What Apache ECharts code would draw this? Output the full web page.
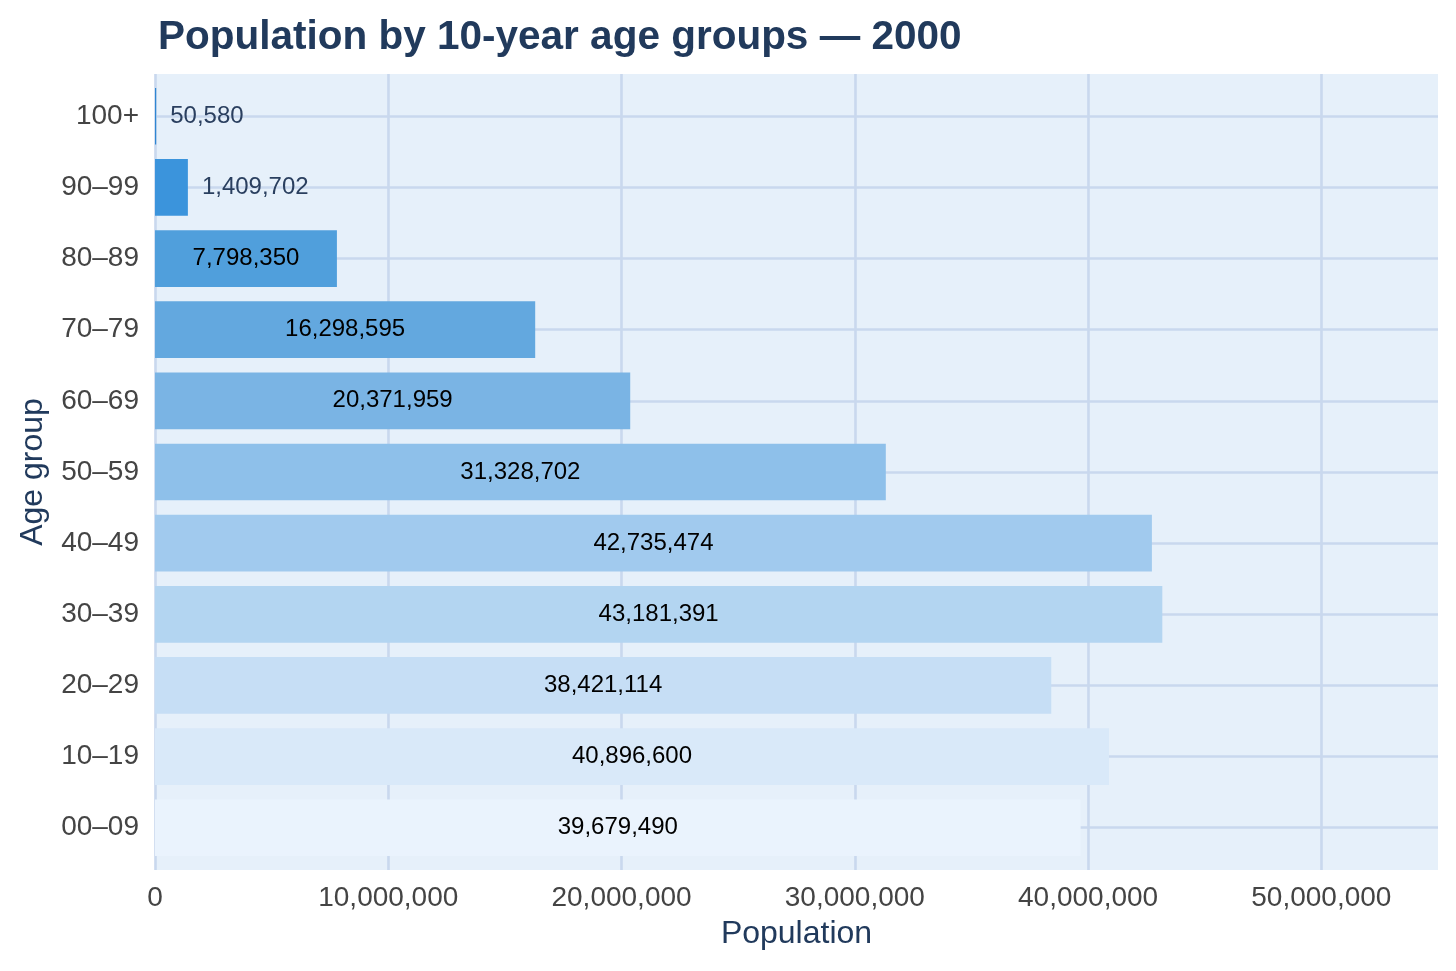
<!DOCTYPE html>
<html>
<head>
<meta charset="utf-8">
<script src="https://cdn.jsdelivr.net/npm/echarts@6/dist/echarts.min.js"></script>
<style>
html,body{margin:0;padding:0;background:#fff;}
#chart{width:1456px;height:971px;}
</style>
</head>
<body>
<div id="chart"></div>
<script>
const titleText = 'Population by 10-year age groups — 2000';
const categories = ['00–09','10–19','20–29','30–39','40–49','50–59','60–69','70–79','80–89','90–99','100+'];
const populations = [39679490, 40896600, 38421114, 43181391, 42735474, 31328702, 20371959, 16298595, 7798350, 1409702, 50580];
const barColors = ['#eaf3fd','#d9e9f9','#c6def5','#b3d5f1','#a1caee','#8ec0ea','#7ab4e4','#63a8df','#509fdc','#3b94dc','#2f86d2'];
const outsideLabelGroups = ['90–99','100+'];
const xTickStep = 10000000;
const xMax = 55000000;

function fmt(v){ return String(Math.round(v)).replace(/\B(?=(\d{3})+(?!\d))/g, ','); }

const FONT = "'Liberation Sans', Arial, sans-serif";
const gridColor = '#c9d8ee';

const barData = populations.map((v, i) => {
  const outside = outsideLabelGroups.indexOf(categories[i]) >= 0;
  return {
    value: v,
    itemStyle: { color: barColors[i] },
    label: outside
      ? { show: true, position: 'right', distance: 14, color: '#2a3f5f', fontSize: 24, fontFamily: FONT, formatter: p => fmt(p.value) }
      : { show: true, position: 'inside', color: '#000', fontSize: 24, fontFamily: FONT, formatter: p => fmt(p.value) }
  };
});

const chart = echarts.init(document.getElementById('chart'), null, { renderer: 'canvas' });
chart.setOption({
  animation: false,
  backgroundColor: '#ffffff',
  title: {
    text: titleText,
    left: 153, top: 12,
    textStyle: { fontFamily: FONT, fontWeight: 'bold', fontSize: 40.5, color: '#213a5c' }
  },
  grid: [
    { left: 155, right: 18, top: 74, bottom: 101, show: true, backgroundColor: '#e6f0fa', borderWidth: 0 },
    { left: 155, right: 18, top: 80.7, bottom: 107.7, show: false }
  ],
  xAxis: [
    {
      gridIndex: 0, type: 'value', min: 0, max: xMax, interval: xTickStep,
      axisLine: { show: false }, axisTick: { show: false },
      splitLine: { show: true, showMaxLine: false, lineStyle: { color: gridColor, width: 2.6 } },
      axisLabel: { color: '#444', fontSize: 28, fontFamily: FONT, margin: 14, formatter: v => fmt(v), showMaxLabel: false },
      name: 'Population', nameLocation: 'middle', nameGap: 48,
      nameTextStyle: { color: '#213a5c', fontSize: 32, fontFamily: FONT }
    },
    {
      gridIndex: 1, type: 'value', min: 0, max: xMax, interval: xTickStep,
      show: false, splitLine: { show: false }
    }
  ],
  yAxis: [
    { gridIndex: 0, type: 'value', min: 0, max: 1, show: false, splitLine: { show: false } },
    {
      gridIndex: 1, type: 'category', data: categories,
      axisLine: { show: false }, axisTick: { show: false }, splitLine: { show: false },
      axisLabel: { color: '#444', fontSize: 28, fontFamily: FONT, margin: 16 },
      name: 'Age group', nameLocation: 'middle', nameGap: 106,
      nameTextStyle: { color: '#213a5c', fontSize: 32, fontFamily: FONT }
    }
  ],
  series: [{
    type: 'bar',
    xAxisIndex: 1, yAxisIndex: 1,
    data: barData,
    barCategoryGap: '20.3%',
    z: 3,
    silent: true,
    markLine: {
      z: 1,
      silent: true,
      symbol: ['none','none'],
      label: { show: false },
      lineStyle: { color: gridColor, width: 2.6, type: 'solid' },
      emphasis: { disabled: true },
      data: categories.map(c => ({ yAxis: c }))
    }
  }]
});
</script>
</body>
</html>
